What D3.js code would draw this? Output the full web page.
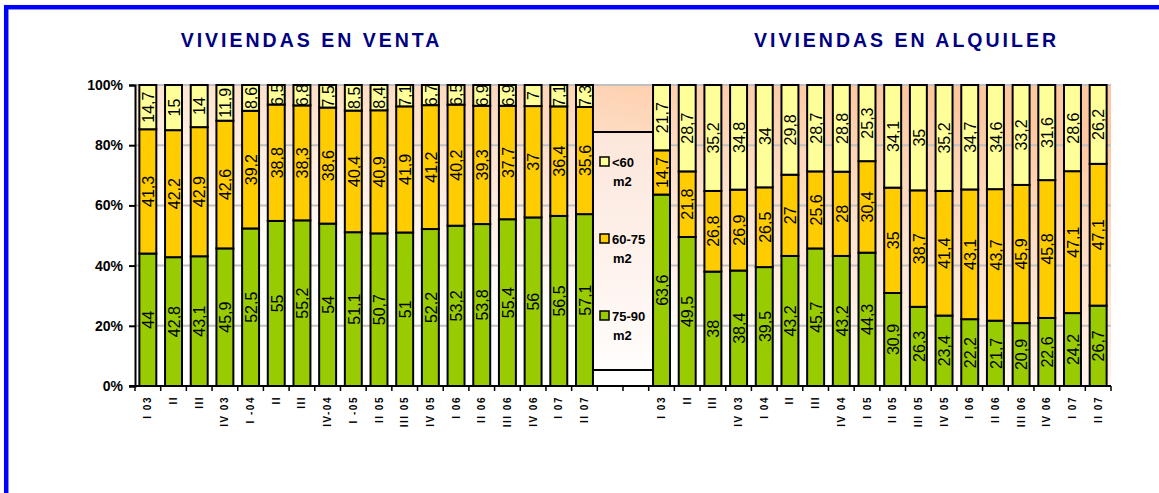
<!DOCTYPE html>
<html>
<head>
<meta charset="utf-8">
<script src="https://cdn.jsdelivr.net/npm/d3@7"></script>
<style>
  body { margin: 0; background: #fff; }
  svg { display: block; font-family: "Liberation Sans", Arial, sans-serif; }
</style>
</head>
<body>
<svg id="chart" width="1159" height="493"></svg>
<script>
// categories
const saleCats = ["I 03", "II", "III", "IV 03", "I -04", "II", "III", "IV-04", "I -05", "II 05", "III 05", "IV 05", "I 06", "II 06", "III 06", "IV 06", "I 07", "II 07"];
const rentCats = ["I 03", "II", "III", "IV 03", "I 04", "II", "III", "IV 04", "I 05", "II 05", "III 05", "IV 05", "I 06", "II 06", "III 06", "IV 06", "I 07", "II 07"];

// series values (venta)
const sale7590 = [44, 42.8, 43.1, 45.9, 52.5, 55, 55.2, 54, 51.1, 50.7, 51, 52.2, 53.2, 53.8, 55.4, 56, 56.5, 57.1];
const sale6075 = [41.3, 42.2, 42.9, 42.6, 39.2, 38.8, 38.3, 38.6, 40.4, 40.9, 41.9, 41.2, 40.2, 39.3, 37.7, 37, 36.4, 35.6];
const sale60 = [14.7, 15, 14, 11.9, 8.6, 6.5, 6.8, 7.5, 8.5, 8.4, 7.1, 6.7, 6.5, 6.9, 6.9, 7, 7.1, 7.3];

// series values (alquiler)
const rent7590 = [63.6, 49.5, 38, 38.4, 39.5, 43.2, 45.7, 43.2, 44.3, 30.9, 26.3, 23.4, 22.2, 21.7, 20.9, 22.6, 24.2, 26.7];
const rent6075 = [14.7, 21.8, 26.8, 26.9, 26.5, 27, 25.6, 28, 30.4, 35, 38.7, 41.4, 43.1, 43.7, 45.9, 45.8, 47.1, 47.1];
const rent60 = [21.7, 28.7, 35.2, 34.8, 34, 29.8, 28.7, 28.8, 25.3, 34.1, 35, 35.2, 34.7, 34.6, 33.2, 31.6, 28.6, 26.2];

const seriesKeys = ["s7590", "s6075", "s60"];
const seriesNames = ["75-90", "60-75", "<60"];
const yTicks = [0, 0.2, 0.4, 0.6, 0.8, 1];
const titles = ["VIVIENDAS EN VENTA", "VIVIENDAS EN ALQUILER"];

// build rows: sale, two empty slots, rent
const rows = [];
saleCats.forEach((c, i) => rows.push({label: c, s7590: sale7590[i], s6075: sale6075[i], s60: sale60[i]}));
rows.push({label: "", empty: true, s7590: 0, s6075: 0, s60: 0});
rows.push({label: "", empty: true, s7590: 0, s6075: 0, s60: 0});
rentCats.forEach((c, i) => rows.push({label: c, s7590: rent7590[i], s6075: rent6075[i], s60: rent60[i]}));

const colors = {s7590: "#99CC00", s6075: "#FFCC00", s60: "#FFFF99"};

const svg = d3.select("#chart");
const plot = {left: 135, right: 1111, top: 85, bottom: 386};

// blue frame
svg.append("rect")
  .attr("x", 6.2).attr("y", 7.2)
  .attr("width", 1200).attr("height", 600)
  .attr("fill", "none").attr("stroke", "#0000FF").attr("stroke-width", 4.5);

// gradients
const defs = svg.append("defs");
const bg = defs.append("linearGradient").attr("id", "bg")
  .attr("x1", 0).attr("y1", 1).attr("x2", 0.75).attr("y2", 0);
bg.append("stop").attr("offset", "0%").attr("stop-color", "#FFFFFF");
bg.append("stop").attr("offset", "35%").attr("stop-color", "#FFFFFF");
bg.append("stop").attr("offset", "100%").attr("stop-color", "#FDC8A0");
const lg = defs.append("linearGradient").attr("id", "lg")
  .attr("x1", 0).attr("y1", 0).attr("x2", 0).attr("y2", 1);
lg.append("stop").attr("offset", "0%").attr("stop-color", "#FCE6DA");
lg.append("stop").attr("offset", "100%").attr("stop-color", "#FFFDFC");
defs.append("clipPath").attr("id", "clip")
  .append("rect")
  .attr("x", plot.left).attr("y", plot.top)
  .attr("width", plot.right - plot.left).attr("height", plot.bottom - plot.top);

const x = d3.scaleBand()
  .domain(d3.range(rows.length))
  .range([plot.left, plot.right])
  .paddingInner(0.34)
  .paddingOuter(0.17);
const xEdge = d3.scaleBand()
  .domain(d3.range(rows.length))
  .range([plot.left, plot.right]);
const y = d3.scaleLinear().domain([0, 1]).range([plot.bottom, plot.top]);

// plot background
svg.append("rect")
  .attr("x", plot.left).attr("y", plot.top)
  .attr("width", plot.right - plot.left).attr("height", plot.bottom - plot.top)
  .attr("fill", "url(#bg)");

// gridlines
svg.append("g")
  .selectAll("line")
  .data(yTicks.slice(1))
  .join("line")
  .attr("x1", plot.left).attr("x2", plot.right)
  .attr("y1", d => y(d)).attr("y2", d => y(d))
  .attr("stroke", "#C0C0C0").attr("stroke-width", 2);

// stacked 100% bars
const stack = d3.stack().keys(seriesKeys).offset(d3.stackOffsetExpand);
const layers = stack(rows);

const barG = svg.append("g");
layers.forEach(layer => {
  barG.append("g")
    .selectAll("rect")
    .data(layer.map((d, i) => ({d, i})).filter(o => !rows[o.i].empty))
    .join("rect")
    .attr("x", o => x(o.i))
    .attr("width", x.bandwidth())
    .attr("y", o => y(o.d[1]))
    .attr("height", o => y(o.d[0]) - y(o.d[1]))
    .attr("fill", colors[layer.key])
    .attr("stroke", "#000").attr("stroke-width", 2);
});

// value labels
const labG = svg.append("g").attr("clip-path", "url(#clip)");
layers.forEach(layer => {
  labG.append("g")
    .selectAll("text")
    .data(layer.map((d, i) => ({d, i})).filter(o => !rows[o.i].empty))
    .join("text")
    .attr("transform", o => `translate(${x(o.i) + x.bandwidth() / 2 + 0.5},${y((o.d[0] + o.d[1]) / 2)}) rotate(-90)`)
    .attr("text-anchor", "middle")
    .attr("dy", "0.36em")
    .attr("font-size", "16px")
    .attr("fill", "#000")
    .text(o => String(rows[o.i][layer.key]).replace(".", ","));
});

// y axis
const yAxis = svg.append("g")
  .attr("transform", `translate(${plot.left},0)`)
  .call(d3.axisLeft(y).tickValues(yTicks).tickFormat(d3.format(".0%")).tickSize(6).tickPadding(6));
yAxis.select(".domain").attr("stroke", "#000").attr("stroke-width", 2);
yAxis.selectAll(".tick line").attr("stroke", "#000").attr("stroke-width", 2);
yAxis.selectAll("text")
  .attr("font-family", "'Liberation Sans', Arial, sans-serif")
  .attr("font-size", "14px").attr("font-weight", "bold").attr("fill", "#000");

// x axis
svg.append("line")
  .attr("x1", plot.left - 6).attr("x2", plot.right)
  .attr("y1", plot.bottom).attr("y2", plot.bottom)
  .attr("stroke", "#000").attr("stroke-width", 2);
svg.append("g")
  .selectAll("line")
  .data(d3.range(rows.length + 1))
  .join("line")
  .attr("x1", i => i < rows.length ? xEdge(i) : plot.right)
  .attr("x2", i => i < rows.length ? xEdge(i) : plot.right)
  .attr("y1", plot.bottom).attr("y2", plot.bottom + 5)
  .attr("stroke", "#000").attr("stroke-width", 1.5);

const xAxis = svg.append("g")
  .attr("transform", `translate(0,${plot.bottom})`)
  .call(d3.axisBottom(x).tickSize(0).tickFormat(i => rows[i].label));
xAxis.select(".domain").remove();
xAxis.selectAll("text")
  .attr("font-family", "'Liberation Sans', Arial, sans-serif")
  .attr("font-size", "10px").attr("font-weight", "bold").attr("fill", "#000")
  .attr("letter-spacing", "1.5px")
  .attr("transform", "rotate(-90)")
  .attr("text-anchor", "end")
  .attr("x", -10).attr("y", 0).attr("dy", "0.35em");

// legend
const legend = svg.append("g").attr("transform", "translate(593,132)");
legend.append("rect")
  .attr("width", 60).attr("height", 238)
  .attr("fill", "url(#lg)").attr("stroke", "#000").attr("stroke-width", 2);
const legendItems = seriesKeys.slice().reverse();
legendItems.forEach((k, j) => {
  const gy = 30 + j * 77;
  const item = legend.append("g").attr("transform", `translate(0,${gy})`);
  item.append("rect")
    .attr("x", 7).attr("y", -5).attr("width", 9).attr("height", 9)
    .attr("fill", colors[k]).attr("stroke", "#000").attr("stroke-width", 1.5);
  item.append("text")
    .attr("x", 19).attr("y", 5)
    .attr("font-size", "13px").attr("font-weight", "bold")
    .text(seriesNames[seriesKeys.indexOf(k)]);
  item.append("text")
    .attr("x", 20).attr("y", 24)
    .attr("font-size", "13px").attr("font-weight", "bold")
    .text("m2");
});

// titles
svg.append("g")
  .selectAll("text")
  .data(titles)
  .join("text")
  .attr("x", (d, i) => i === 0 ? 311.5 : 906.5)
  .attr("y", 47)
  .attr("text-anchor", "middle")
  .attr("font-size", "19.5px").attr("font-weight", "bold")
  .attr("letter-spacing", "3px")
  .attr("fill", "#000080")
  .text(d => d);
</script>
</body>
</html>
